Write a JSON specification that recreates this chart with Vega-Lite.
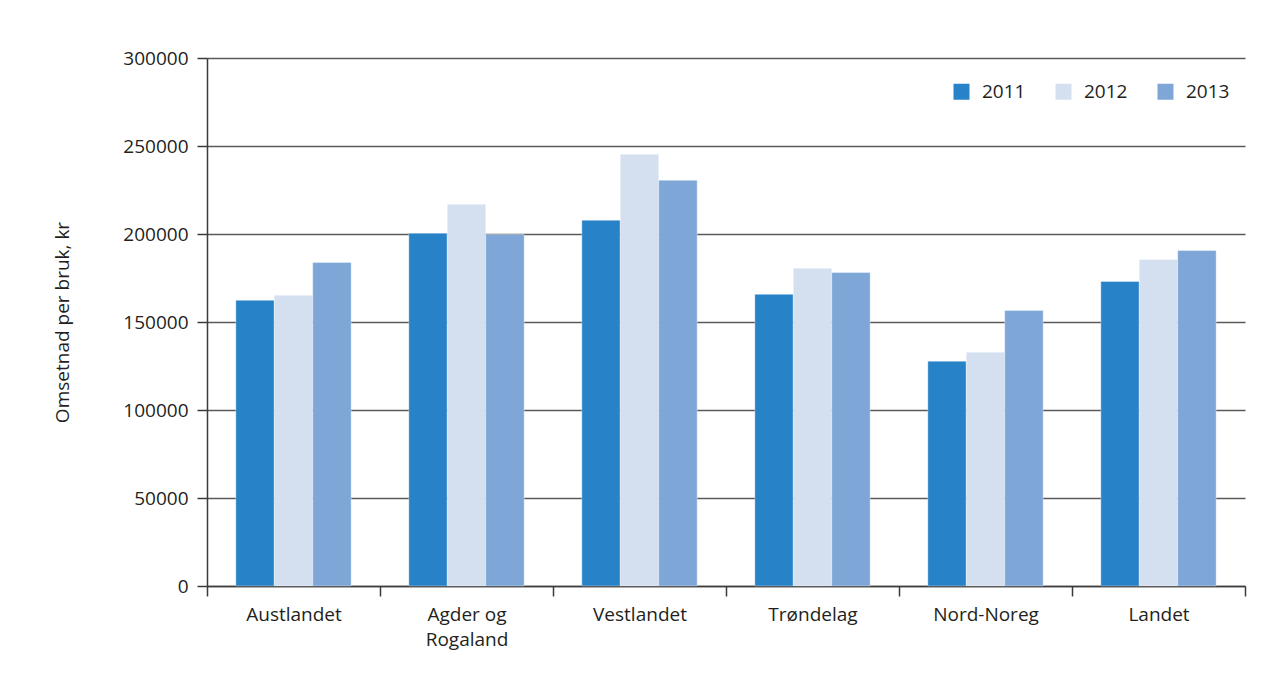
{
  "$schema": "https://vega.github.io/schema/vega-lite/v6.json",
  "autosize": {"type": "none"},
  "width": 1038,
  "height": 528,
  "padding": {"left": 207, "top": 58, "right": 37, "bottom": 110},
  "background": "white",
  "config": {
    "font": "Open Sans",
    "view": {"stroke": null},
    "axis": {"labelFont": "Open Sans", "titleFont": "Open Sans", "labelColor": "#231f20", "titleColor": "#231f20"}
  },
  "data": {
    "values": [
      {"region": "Austlandet", "year": "2011", "value": 162300},
      {"region": "Austlandet", "year": "2012", "value": 165200},
      {"region": "Austlandet", "year": "2013", "value": 183800},
      {"region": "Agder og Rogaland", "year": "2011", "value": 200400},
      {"region": "Agder og Rogaland", "year": "2012", "value": 216900},
      {"region": "Agder og Rogaland", "year": "2013", "value": 199700},
      {"region": "Vestlandet", "year": "2011", "value": 207800},
      {"region": "Vestlandet", "year": "2012", "value": 245300},
      {"region": "Vestlandet", "year": "2013", "value": 230500},
      {"region": "Trøndelag", "year": "2011", "value": 165700},
      {"region": "Trøndelag", "year": "2012", "value": 180500},
      {"region": "Trøndelag", "year": "2013", "value": 178100},
      {"region": "Nord-Noreg", "year": "2011", "value": 127700},
      {"region": "Nord-Noreg", "year": "2012", "value": 132800},
      {"region": "Nord-Noreg", "year": "2013", "value": 156500},
      {"region": "Landet", "year": "2011", "value": 173000},
      {"region": "Landet", "year": "2012", "value": 185500},
      {"region": "Landet", "year": "2013", "value": 190600}
    ]
  },
  "mark": {"type": "bar", "stroke": "white", "strokeOpacity": 0.35, "strokeWidth": 1},
  "encoding": {
    "x": {
      "field": "region",
      "type": "nominal",
      "sort": null,
      "scale": {"paddingInner": 0, "paddingOuter": 0},
      "axis": {
        "title": null,
        "labelAngle": 0,
        "labelFontSize": 19,
        "labelPadding": 9,
        "labelLineHeight": 25,
        "tickBand": "extent",
        "tickSize": 10,
        "tickColor": "#3a3a3a",
        "domainColor": "#3a3a3a",
        "tickWidth": 1.5,
        "domainWidth": 1.5,
        "labelExpr": "datum.value == 'Agder og Rogaland' ? ['Agder og', 'Rogaland'] : datum.value"
      }
    },
    "xOffset": {
      "field": "year",
      "type": "nominal",
      "scale": {"paddingInner": 0, "paddingOuter": 0.75}
    },
    "y": {
      "field": "value",
      "type": "quantitative",
      "scale": {"domain": [0, 300000], "nice": false},
      "axis": {
        "title": "Omsetnad per bruk, kr",
        "titleFontSize": 19,
        "titleFontWeight": "normal",
        "titlePadding": 50,
        "values": [0, 50000, 100000, 150000, 200000, 250000, 300000],
        "format": "d",
        "labelFontSize": 19,
        "labelPadding": 9,
        "tickSize": 10,
        "tickColor": "#3a3a3a",
        "domainColor": "#3a3a3a",
        "domainWidth": 1.5,
        "tickWidth": 1.5,
        "grid": true,
        "gridColor": "#5a5a5a",
        "gridWidth": 1.5
      }
    },
    "color": {
      "field": "year",
      "type": "nominal",
      "scale": {"domain": ["2011", "2012", "2013"], "range": ["#2882c8", "#d4dff0", "#7ea7d8"]},
      "legend": {
        "title": null,
        "orient": "none",
        "legendX": 745,
        "legendY": 24,
        "direction": "horizontal",
        "symbolType": "square",
        "symbolSize": 256,
        "symbolStrokeWidth": 0,
        "labelFontSize": 19,
        "labelColor": "#231f20",
        "labelOffset": 11,
        "columnPadding": 28,
        "padding": 0
      }
    }
  }
}
